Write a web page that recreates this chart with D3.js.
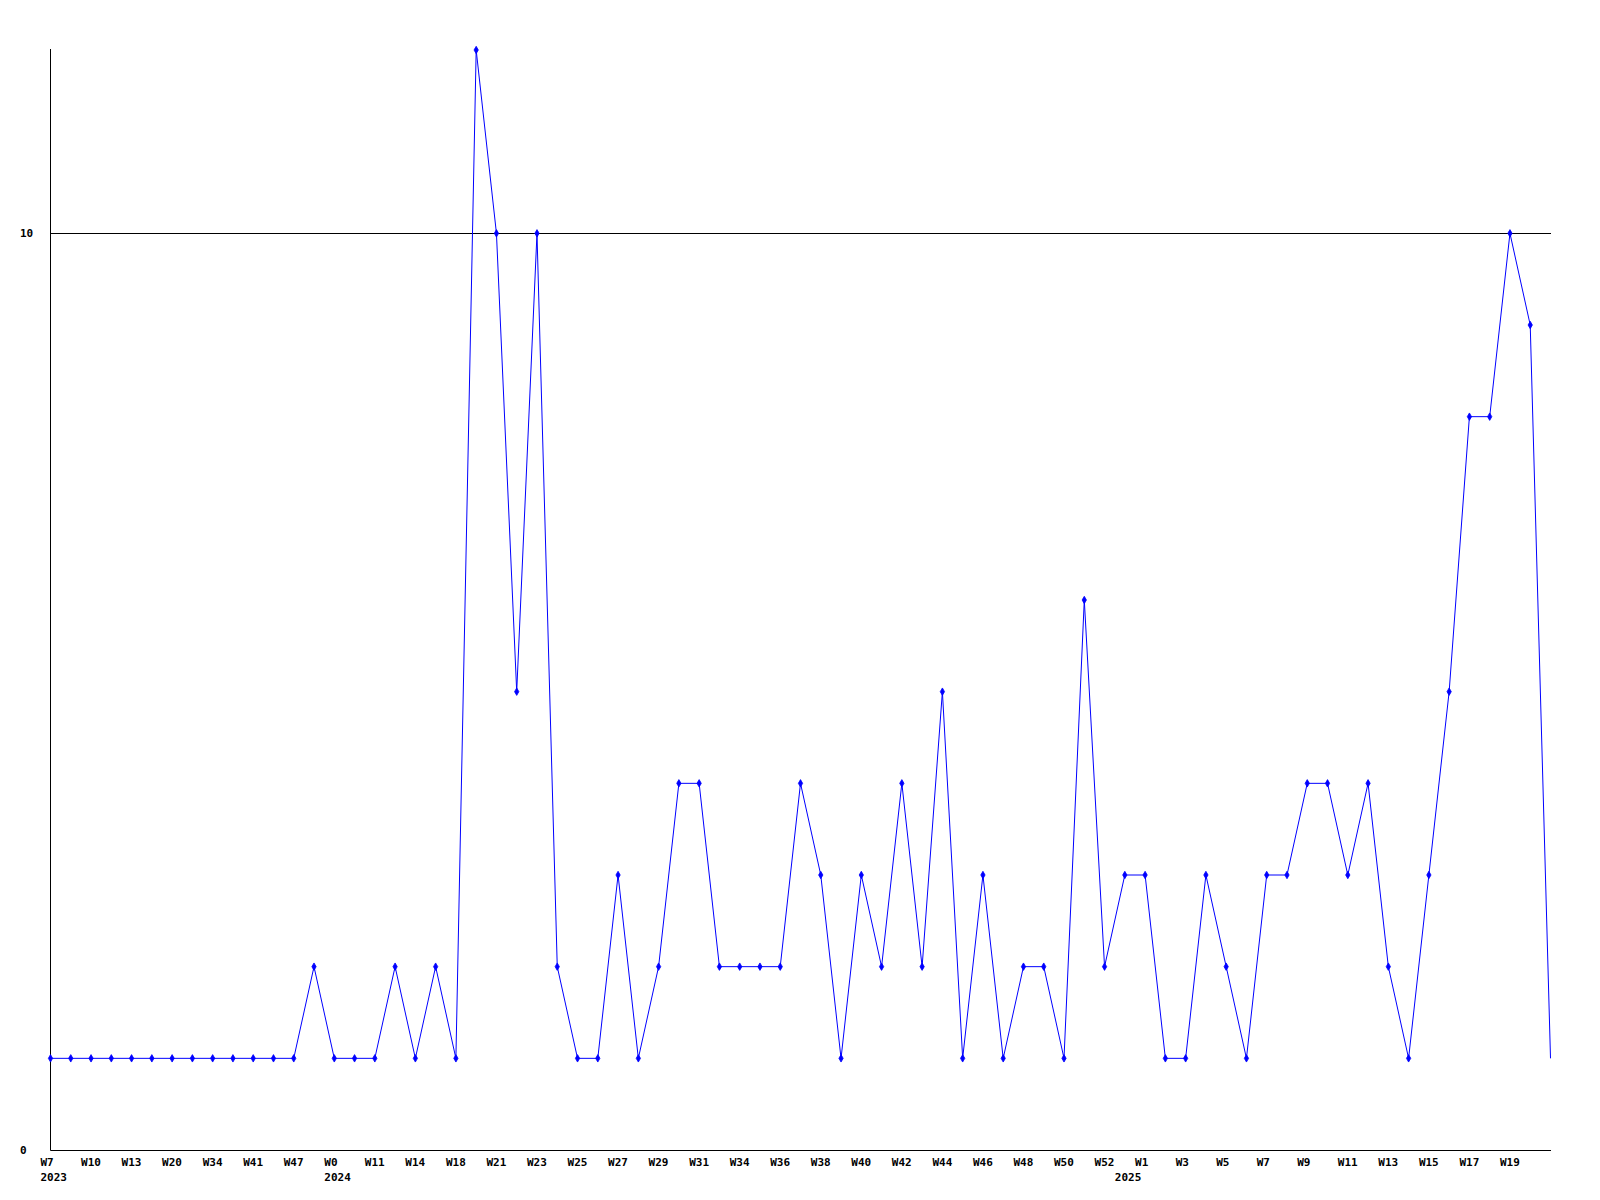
<!DOCTYPE html>
<html>
<head>
<meta charset="utf-8">
<script src="https://cdn.jsdelivr.net/npm/d3@7"></script>
<style>
  html, body { margin: 0; padding: 0; background: #ffffff; }
  svg { display: block; }
  text { font-family: "DejaVu Sans Mono", "Liberation Mono", monospace; font-weight: bold; font-size: 11px; fill: #000; }
</style>
</head>
<body>
<svg id="chart" width="1600" height="1200"></svg>
<script>
// Weekly values (one per point, 75 points)
const values = [
  1, 1, 1, 1, 1, 1, 1, 1, 1, 1,
  1, 1, 1, 2, 1, 1, 1, 2, 1, 2,
  1, 12, 10, 5, 10, 2, 1, 1, 3, 1,
  2, 4, 4, 2, 2, 2, 2, 4, 3, 1,
  3, 2, 4, 2, 5, 1, 3, 1, 2, 2,
  1, 6, 2, 3, 3, 1, 1, 3, 2, 1,
  3, 3, 4, 4, 3, 4, 2, 1, 3, 5,
  8, 8, 10, 9, 1
];

// Tick labels, one on every second point
const weekLabels = [
  "W7", "W10", "W13", "W20", "W34", "W41", "W47", "W0", "W11", "W14",
  "W18", "W21", "W23", "W25", "W27", "W29", "W31", "W34", "W36", "W38",
  "W40", "W42", "W44", "W46", "W48", "W50", "W52", "W1", "W3", "W5",
  "W7", "W9", "W11", "W13", "W15", "W17", "W19"
];
// Year labels below the week labels (point index -> year)
const yearPointIndex = [0, 14, 53];
const yearLabels = ["2023", "2024", "2025"];

const yTicks = [0, 10];
const gridValues = [10];

(function () {
const svg = d3.select("#chart");
const mLeft = 50.5, mRight = 1550.5, mTop = 50, mBottom = 1150;

const x = d3.scaleLinear().domain([0, values.length - 1]).range([mLeft, mRight]);
const y = d3.scaleLinear().domain([0, 12]).range([mBottom, mTop]);

// grid line
svg.selectAll("line.grid").data(gridValues).enter().append("line")
  .attr("class", "grid")
  .attr("x1", mLeft).attr("x2", mRight + 0.5)
  .attr("y1", d => Math.round(y(d)) + 0.5).attr("y2", d => Math.round(y(d)) + 0.5)
  .attr("stroke", "#000").attr("stroke-width", 1);

// axes lines
svg.append("line").attr("x1", mLeft).attr("x2", mLeft)
  .attr("y1", mTop - 1).attr("y2", mBottom + 0.5)
  .attr("stroke", "#000").attr("stroke-width", 1);
svg.append("line").attr("x1", mLeft).attr("x2", mRight + 0.5)
  .attr("y1", mBottom + 0.5).attr("y2", mBottom + 0.5)
  .attr("stroke", "#000").attr("stroke-width", 1);

// y tick labels
svg.selectAll("text.ytick").data(yTicks).enter().append("text")
  .attr("class", "ytick")
  .attr("x", 20)
  .attr("y", d => y(d))
  .attr("dy", "0.35em")
  .text(d => d);

// x tick labels
svg.selectAll("text.xtick").data(weekLabels).enter().append("text")
  .attr("class", "xtick")
  .attr("x", (d, i) => x(i * 2) - 10)
  .attr("y", 1166)
  .text(d => d);

svg.selectAll("text.year").data(yearLabels).enter().append("text")
  .attr("class", "year")
  .attr("x", (d, i) => x(yearPointIndex[i]) - 10)
  .attr("y", 1181)
  .text(d => d);

// line
const line = d3.line().x((d, i) => x(i)).y(d => y(d));
svg.append("path").datum(values)
  .attr("d", line)
  .attr("fill", "none")
  .attr("stroke", "#0000ff")
  .attr("stroke-width", 1);

// markers (small diamonds), last point has none
const marker = d3.symbol().type(d3.symbolDiamond).size(16);
svg.selectAll("path.pt").data(values.slice(0, values.length - 1)).enter().append("path")
  .attr("class", "pt")
  .attr("d", marker)
  .attr("transform", (d, i) => `translate(${x(i)},${y(d)})`)
  .attr("fill", "#0000ff")
  .attr("stroke", "#0000ff")
  .attr("stroke-width", 0.8);
})();
</script>
</body>
</html>
